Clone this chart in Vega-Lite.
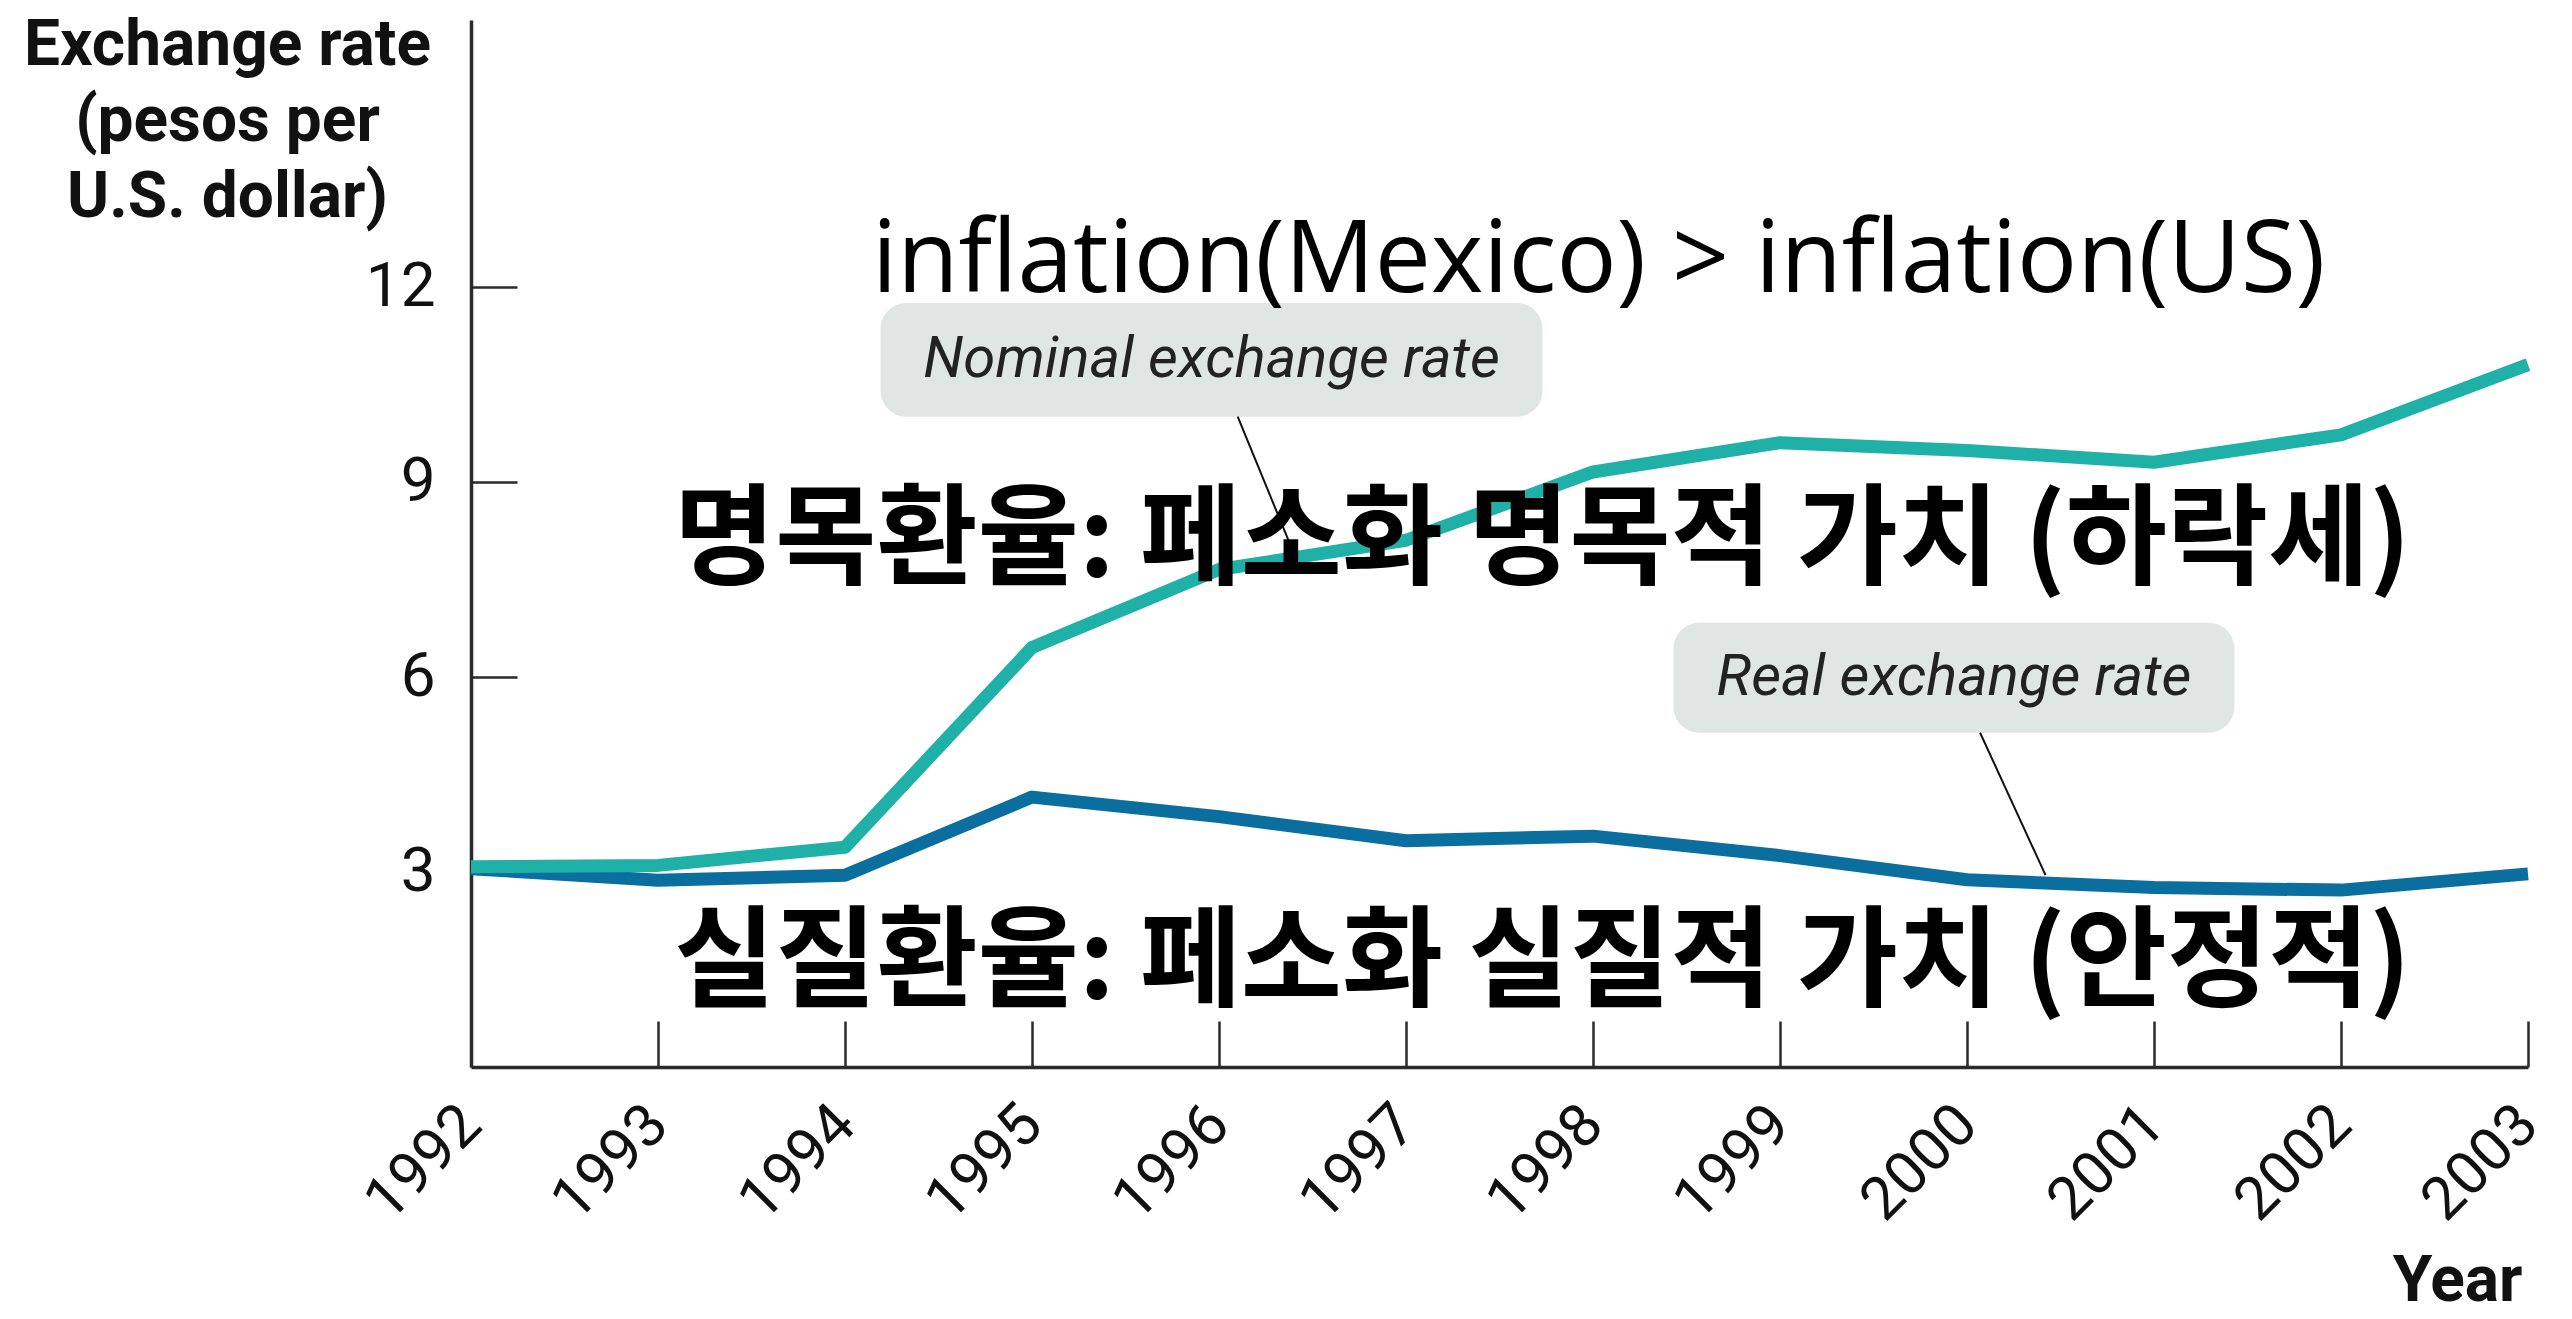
{
  "$schema": "https://vega.github.io/schema/vega-lite/v6.json",
  "width": 2057,
  "height": 1047,
  "autosize": "none",
  "padding": {"left": 471, "top": 20, "right": 44, "bottom": 252},
  "background": "white",
  "config": {
    "view": {"stroke": null},
    "axis": {
      "grid": false,
      "domainColor": "#2a2a2a",
      "domainWidth": 3.5,
      "tickColor": "#2a2a2a",
      "tickWidth": 2.5,
      "labelFont": "Roboto",
      "labelColor": "#111",
      "titleFont": "Roboto",
      "titleColor": "#111",
      "titleFontWeight": "bold"
    }
  },
  "layer": [
    {
      "data": {"values": [
        {"x1": 1994.19, "x2": 1997.73, "y1": 10.0, "y2": 11.75},
        {"x1": 1998.43, "x2": 2001.43, "y1": 5.14, "y2": 6.83}
      ]},
      "mark": {"type": "rect", "fill": "#dfe6e3", "cornerRadius": 26},
      "encoding": {
        "x": {"field": "x1", "type": "quantitative"},
        "x2": {"field": "x2"},
        "y": {"field": "y1", "type": "quantitative"},
        "y2": {"field": "y2"}
      }
    },
    {
      "data": {"values": [
        {"x1": 1996.10, "y1": 10.0, "x2": 1996.41, "y2": 7.83},
        {"x1": 2000.07, "y1": 5.14, "x2": 2000.42, "y2": 2.95}
      ]},
      "mark": {"type": "rule", "color": "#111", "strokeWidth": 2},
      "encoding": {
        "x": {"field": "x1", "type": "quantitative"},
        "x2": {"field": "x2"},
        "y": {"field": "y1", "type": "quantitative"},
        "y2": {"field": "y2"}
      }
    },
    {
      "data": {"values": [
        {"year": 1992, "value": 3.05, "series": "Real"},
        {"year": 1993, "value": 2.87, "series": "Real"},
        {"year": 1994, "value": 2.95, "series": "Real"},
        {"year": 1995, "value": 4.15, "series": "Real"},
        {"year": 1996, "value": 3.85, "series": "Real"},
        {"year": 1997, "value": 3.48, "series": "Real"},
        {"year": 1998, "value": 3.55, "series": "Real"},
        {"year": 1999, "value": 3.25, "series": "Real"},
        {"year": 2000, "value": 2.88, "series": "Real"},
        {"year": 2001, "value": 2.76, "series": "Real"},
        {"year": 2002, "value": 2.72, "series": "Real"},
        {"year": 2003, "value": 2.97, "series": "Real"},
        {"year": 1992, "value": 3.08, "series": "Nominal"},
        {"year": 1993, "value": 3.1, "series": "Nominal"},
        {"year": 1994, "value": 3.38, "series": "Nominal"},
        {"year": 1995, "value": 6.45, "series": "Nominal"},
        {"year": 1996, "value": 7.65, "series": "Nominal"},
        {"year": 1997, "value": 8.1, "series": "Nominal"},
        {"year": 1998, "value": 9.15, "series": "Nominal"},
        {"year": 1999, "value": 9.6, "series": "Nominal"},
        {"year": 2000, "value": 9.48, "series": "Nominal"},
        {"year": 2001, "value": 9.3, "series": "Nominal"},
        {"year": 2002, "value": 9.72, "series": "Nominal"},
        {"year": 2003, "value": 10.8, "series": "Nominal"}
      ]},
      "mark": {"type": "line", "strokeWidth": 13, "strokeCap": "butt", "strokeJoin": "round"},
      "encoding": {
        "x": {
          "field": "year", "type": "quantitative",
          "scale": {"domain": [1992, 2003], "nice": false, "zero": false},
          "axis": {
            "values": [1992, 1993, 1994, 1995, 1996, 1997, 1998, 1999, 2000, 2001, 2002, 2003],
            "format": "d",
            "tickSize": -46,
            "labelAngle": -45,
            "labelAlign": "right",
            "labelBaseline": "middle",
            "labelPadding": 94,
            "labelFontSize": 60,
            "labelOverlap": false,
            "labelFlush": false,
            "title": "Year",
            "titleFontSize": 64,
            "titleAlign": "right",
            "titleAnchor": "end",
            "titleBaseline": "bottom",
            "titleX": 2051,
            "titleY": 246
          }
        },
        "y": {
          "field": "value", "type": "quantitative",
          "scale": {"domain": [0, 16.1], "nice": false},
          "axis": {
            "values": [3, 6, 9, 12],
            "format": "d",
            "tickSize": -46,
            "labelPadding": 82,
            "labelFontSize": 62,
            "labelBaseline": "middle",
            "title": ["Exchange rate", "(pesos per", "U.S. dollar)"],
            "titleFontSize": 64,
            "titleLineHeight": 76,
            "titleAngle": 0,
            "titleAlign": "center",
            "titleBaseline": "alphabetic",
            "titleX": -244,
            "titleY": 44
          }
        },
        "color": {
          "field": "series", "type": "nominal",
          "scale": {"domain": ["Nominal", "Real"], "range": ["#1fb1a8", "#0a6f9e"]},
          "legend": null
        },
        "order": {"field": "series", "type": "nominal", "sort": "ascending"}
      }
    },
    {
      "data": {"values": [
        {"tx": 1995.96, "ty": 10.875, "label": "Nominal exchange rate"},
        {"tx": 1999.93, "ty": 5.985, "label": "Real exchange rate"}
      ]},
      "mark": {"type": "text", "font": "Roboto", "fontStyle": "italic", "fontSize": 58, "color": "#222", "align": "center", "baseline": "middle"},
      "encoding": {
        "x": {"field": "tx", "type": "quantitative"},
        "y": {"field": "ty", "type": "quantitative"},
        "text": {"field": "label"}
      }
    },
    {
      "data": {"values": [
        {"tx": 1998.03, "ty": 11.92, "label": "inflation(Mexico) > inflation(US)"}
      ]},
      "mark": {"type": "text", "font": "Open Sans", "fontSize": 100, "color": "#000", "align": "center", "baseline": "alphabetic"},
      "encoding": {
        "x": {"field": "tx", "type": "quantitative"},
        "y": {"field": "ty", "type": "quantitative"},
        "text": {"field": "label"}
      }
    },
    {
      "data": {"values": [
        {"tx": 1997.73, "ty": 8.06, "label": "명목환율: 페소화 명목적 가치 (하락세)"},
        {"tx": 1997.73, "ty": 1.57, "label": "실질환율: 페소화 실질적 가치 (안정적)"}
      ]},
      "mark": {"type": "text", "font": "Noto Sans CJK KR", "fontWeight": "bold", "fontSize": 110, "color": "#000", "align": "center", "baseline": "middle"},
      "encoding": {
        "x": {"field": "tx", "type": "quantitative"},
        "y": {"field": "ty", "type": "quantitative"},
        "text": {"field": "label"}
      }
    }
  ]
}
